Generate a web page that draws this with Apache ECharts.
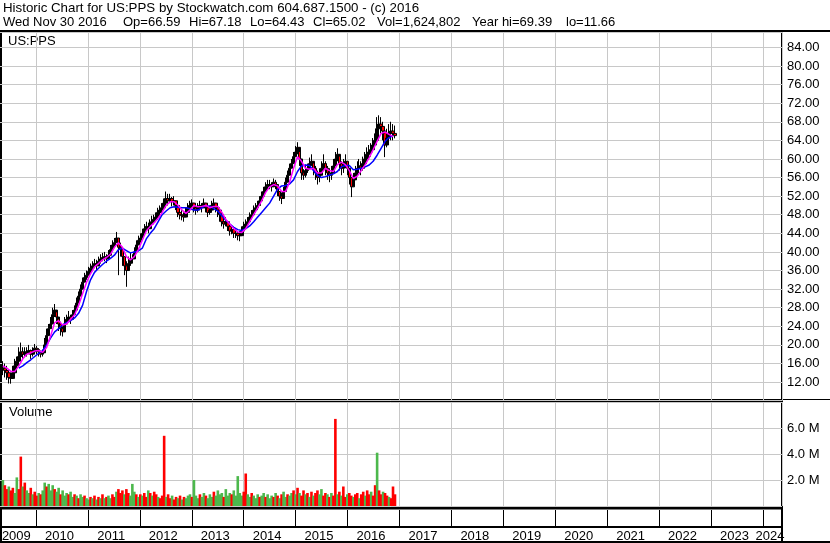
<!DOCTYPE html>
<html><head><meta charset="utf-8">
<script src="https://cdn.jsdelivr.net/npm/echarts@6/dist/echarts.min.js"></script>
<style>html,body{margin:0;padding:0;background:#fff}#c{width:830px;height:543px}</style>
</head><body><div id="c"></div>
<script>
const titleLine1 = 'Historic Chart for US:PPS by Stockwatch.com 604.687.1500 - (c) 2016';
const titleLine2Parts = ['Wed Nov 30 2016','Op=66.59','Hi=67.18','Lo=64.43','Cl=65.02','Vol=1,624,802','Year hi=69.39','lo=11.66'];
const symbolName = 'US:PPS';
const volumeTitle = 'Volume';
const firstBarDate = '2009-05-13';
const barStepDays = 14;
const yearLabels = [2009,2010,2011,2012,2013,2014,2015,2016,2017,2018,2019,2020,2021,2022,2023,2024];
const priceTickStep = 4;
const volumeTickStep = 2e6;

// [low, high, close] per two-week bar
const priceBars = [
[13.5,16.5,15],[13,16,14.5],[12.5,15.5,14],[11.7,14.5,13],[11.66,14,12.8],[13,15.5,14],[14.5,17,15.5],[15,17.5,16.5],[16,19.5,17.5],[17,20.5,18.5],
[17,19.5,18],[17.5,19.5,18.5],[17.5,19.5,18.3],[18,20,18.8],[17,19,18],[17.5,19.5,18.5],[18.5,20.2,19.3],[18,19.8,19],[17.5,19.3,18.5],[17.3,18.8,18],
[17.5,19,18.3],[19,21.5,20],[21,23.5,22],[22.5,24.5,23.5],[23.5,26,24.5],[25,28,26.5],[26,28.8,27.5],[24.5,27,26],[23,25.5,24.5],[22,25,23.5],
[21.8,24,22.8],[23.5,26,24.5],[24.5,26.5,25.5],[25,27.3,26],[24.5,26.5,25.5],[25.5,27.5,26.5],[26.5,28.5,27.5],[28,30.2,29],[29.5,31.5,30.5],[31,33,32],
[32.5,34.5,33.5],[33.5,35.5,34.5],[34,36,35],[35,36.8,35.8],[35.5,37.5,36.5],[36,38,37],[36.5,38.5,37.5],[36,38.3,37],[37,39,38],[37.5,39.5,38.5],
[38,39.8,38.8],[38,40,39],[37.6,39.5,38.5],[38.3,40.4,39.3],[39.5,41.5,40.5],[40.5,42.5,41.5],[41,43,42],[42,44.3,43],[35,43,41],[39,42,40.5],
[37,41,39],[35,39,37],[32.5,38,36],[36,39,37.5],[37,39.8,38.5],[37.5,39.5,38.5],[39,41,40],[40.5,42.5,41.5],[41.5,43.5,42.5],[42,44,43],
[43,45,44],[44,46,45],[44.5,46.5,45.5],[44,46.3,45],[45,47,46],[45.5,47.8,46.5],[46,48,47],[46.5,48.5,47.5],[47.5,49.5,48.5],[48,50,49],
[48.3,50.5,49.5],[49.5,51.5,50.5],[50,53,51.5],[50,52.5,51],[50.5,52.5,51.5],[49.8,51.8,50.8],[50,52,51],[49,51,50],[47.5,49.5,48.5],[47,49,48],
[46.8,49,47.8],[46.5,48.5,47.5],[47.5,49.5,48.5],[48.5,50.5,49.5],[49,51,50],[49.5,51.3,50.5],[48.5,50.5,49.5],[48,50.3,49],[48.5,50.5,49.5],[49,51,50],
[48.5,50.5,49.5],[49.5,51.5,50.5],[48.5,50.5,49.5],[47.5,49.5,48.5],[48,50,49],[49,51,50],[49.5,51.5,50.5],[48.5,50.5,49.5],[47.5,50,49],[46.5,49,48],
[45.5,48,46.5],[45,47,46],[45.5,47.5,46.5],[44.5,46.5,45.5],[43.5,45.5,44.5],[43.8,45.8,44.8],[43,45,44],[43,45,44],[42.5,44.5,43.5],[42.3,44.5,43.5],
[43.5,45.5,44.5],[44.5,46.5,45.5],[45,47,46],[45.5,47.5,46.5],[46.5,48.5,47.5],[47,49,48],[48,50,49],[48.5,50.5,49.5],[49,51,50],[50,52,51],
[51,53,52],[52,54,53],[53,55,54],[53.5,55.5,54.5],[53.5,55.5,54.5],[53,55,54],[54,55.8,55],[53.5,55.5,54.5],[52,54,53],[51,53,52],
[50.3,52.8,51.5],[52,54,53],[54,56,55],[55.5,57.5,56.5],[57,59,58],[58,60,59],[59.5,61.5,60.5],[60.5,62.8,61.5],[61,63.6,62.5],[58.5,61.5,60],
[55.5,58.5,57],[55.5,57.8,56.5],[56,58.8,57.5],[57,59,58],[58,60.3,59],[58.5,61,59.5],[56.5,59,58],[55.5,58.5,57],[54.5,57.5,56],[55,58,56.5],
[56.5,59.5,58],[57.5,61,59],[56.5,59.5,58],[55.5,58.5,57],[55,58,56.5],[55.5,58.5,57],[57,60,58.5],[58.5,61.5,60],[59.5,62.3,61],[57.5,60.5,59],
[56.5,59.5,58],[57,60,58.5],[58,61,59.5],[56.5,59.5,58],[54.5,57.5,56],[51.8,56,54],[54,57,55.5],[55.5,58.5,57],[56.5,59.5,58],[57,60,58.5],
[56.5,59.5,58],[57.5,60.5,59],[58.5,61.5,60],[59.5,62.5,61],[60,63,61.5],[60.5,63.4,62],[61.5,64.5,63],[62.5,65.5,64],[65,69,66.5],[66,69.39,67.5],
[65.5,69,67],[64,68,66],[60.4,65.5,63],[62.5,66.5,64.5],[63.5,67.5,65.5],[64,68,66],[64,67.5,65.5],[64.43,67.18,65.02]
];

// volume per bar, millions
const volumes = [
2.0,1.6,1.3,1.5,1.2,1.4,1.0,2.2,1.3,3.8, 1.5,1.8,1.2,1.0,1.4,0.9,1.1,0.8,1.0,0.9,
1.2,1.8,1.5,1.7,1.2,1.6,1.3,1.1,1.4,0.9, 1.2,0.8,1.0,0.9,1.1,0.7,0.9,0.8,0.6,0.9,
0.7,0.8,0.6,0.5,0.7,0.6,0.8,0.5,0.7,0.6, 0.9,0.6,0.7,0.8,0.6,0.9,0.7,1.1,1.3,1.0,
1.2,0.9,1.3,1.0,0.8,1.7,1.1,0.9,0.7,0.9, 0.8,1.0,0.7,1.2,1.0,0.8,1.1,0.9,0.7,0.6,
0.8,5.4,0.7,0.9,0.6,0.8,0.5,0.7,0.6,0.8, 0.5,0.7,0.6,0.8,0.9,0.7,2.0,0.8,0.6,0.9,
0.7,1.0,0.8,0.6,0.9,0.7,1.1,0.8,1.2,0.9, 1.0,0.7,1.3,0.8,1.0,0.9,1.2,0.8,2.3,1.0,
0.8,1.1,2.5,0.9,0.7,1.0,0.8,0.6,0.9,0.7, 0.8,1.0,0.7,0.9,0.6,0.8,0.7,1.0,0.8,0.6,
0.9,1.1,0.7,0.9,0.8,1.0,1.2,0.9,1.4,1.0, 0.8,1.2,0.9,1.0,0.7,1.1,0.8,1.0,1.2,0.9,
1.3,0.8,1.0,0.9,0.7,1.0,0.8,6.7,0.9,1.1, 0.8,1.5,0.7,0.9,1.0,0.8,0.7,0.9,1.0,0.6,
0.9,1.1,0.8,1.2,0.9,1.1,0.8,1.6,4.1,1.2, 0.9,1.1,1.0,0.8,0.7,0.6,1.5,0.9
];
const volumeColours = 'grrgrrggrr'+'grggrgrrgr'+'ggrgggrggr'+'gggrggrgrg'+'grggrgrgrg'+'rgrggrrgrr'+'rgrrgggrgr'+'grrgrgrrgr'+'rrgrrgrrgr'+'grgggrgggr'+
  'ggrgggrggg'+'grgggrgggg'+'grrggrgggr'+'ggrgggrgrg'+'rggrggrgrg'+'rrgrgrgrrg'+'grrgrgrrgr'+'grrgrrgrrg'+'rrgrrgrrgr'+'rgrrgrrr';

// moving averages, one value every 2 bars
const maBarStep = 2;
const maFast = [
15.5,15,14.3,14.3,15.5,17,18,18.3,18.7,18.8, 18.4,19.5,22,24.8,25.2,24.3,24.5,25.5,26.5,28.5,
31,33.5,35.3,36.8,37.5,38.3,38.8,39.5,41,42, 41,39,38.3,39,40.5,42.5,44.5,45.5,46.3,47.3,
48.5,50,50.8,50.8,50,49,48.3,49,50,49.7, 49.8,50,49.5,49.8,49.8,48.5,47,46,45,44.3,
44.2,45,46.5,48,49.5,51,52.8,54,54.5,54.2, 53,53,55,58,60.5,59.5,58,57.8,58,57,
57,58,57.5,57.3,58.8,59.3,58.8,57.5,55.8,56.3, 57.5,58.8,60.3,62,63.8,65.5,65.8,65.3,64.8
];
const maSlow = [
null,null,null,null,15,15.5,16.2,16.8,17.5,18.2, 18.8,20,21.5,22.8,23.5,24.3,24.8,25.2,25.8,26.8,
28.5,31.5,34,35.6,36.5,37.3,38,38.6,39.3,40.5, 40.8,40.3,39.8,40,40.2,40.8,42.8,44,45,46.5,
48,48.8,49.5,49.7,49.6,49.5,49.5,49.3,49,49, 49.5,50,49.8,49.3,48.8,47.8,46.8,46,45.3,44.8,
44.6,45,45.6,46.5,47.5,48.5,49.5,50.5,52,53.5, 54.2,54.3,54.6,55.5,57.3,58.5,58.7,58.6,57.5,56.5,
56,56.2,56.5,56.8,57.3,58.3,58.6,58.6,57.7,57.8, 58,58.3,58.7,59.5,60.8,62.3,63.8,64.6,65
];

const FONT = '"Liberation Sans", Arial, sans-serif';
const DAY = 86400000;
function decYear(t){const d=new Date(t);const y=d.getUTCFullYear();const a=Date.UTC(y,0,1),b=Date.UTC(y+1,0,1);return y+(t-a)/(b-a);}
const t0 = Date.parse(firstBarDate+'T00:00:00Z');
const barX = priceBars.map((_,i)=>decYear(t0+i*barStepDays*DAY));
const candles = priceBars.map((b,i)=>{const open=i?priceBars[i-1][2]:b[2];return [barX[i],open,b[2],b[0],b[1]];});
const volData = volumes.map((v,i)=>({value:[barX[i],v*1e6],itemStyle:{color:volumeColours[i]==='r'?'#ff0000':'#4cb84c'}}));
const fastData = maFast.map((v,k)=>[barX[k*maBarStep],v]);
const slowData = maSlow.map((v,k)=>[barX[k*maBarStep],v]);

const X_MIN = yearLabels[0], X_MAX = 2024.365, X_VIS = barX[0]-0.02;
const labelPos = yearLabels.map(y=>(Math.max(y,X_VIS)+Math.min(y+1,X_MAX))/2-0.05);

const gridL = -15.9, gridR = 48;
const baseX = {type:'value',min:X_MIN,max:X_MAX,interval:1,axisLine:{show:false},axisTick:{show:false},axisLabel:{show:false},
  splitLine:{show:true,lineStyle:{color:'#c8c8c8',width:1}}};
const gridBase = {left:gridL,right:gridR,outerBoundsMode:'none',containLabel:false};

const line2X = [3,123,189,250,313,377,472,566];
const titleTexts = titleLine2Parts.map((t,i)=>({type:'text',x:line2X[i],y:16,style:{text:t,font:'13px '+FONT,fill:'#000'}}));

const chart = echarts.init(document.getElementById('c'),null,{renderer:'canvas'});
chart.setOption({
  animation:false,
  backgroundColor:'#fff',
  grid:[
    Object.assign({top:32,height:368.7},gridBase),
    Object.assign({top:402,height:104},gridBase),
    Object.assign({top:510,height:16},gridBase)
  ],
  xAxis:[
    Object.assign({gridIndex:0},baseX),
    Object.assign({gridIndex:1},baseX),
    Object.assign({},baseX,{gridIndex:2,splitLine:{show:true,lineStyle:{color:'#000',width:1}},
      axisLabel:{show:true,customValues:labelPos,formatter:v=>String(Math.floor(v+0.001)),margin:4,color:'#000',fontSize:13,fontFamily:FONT}})
  ],
  yAxis:[
    {gridIndex:0,type:'value',position:'right',min:8,max:87.31,interval:priceTickStep,axisLine:{show:false},axisTick:{show:false},
      splitLine:{lineStyle:{color:'#c8c8c8',width:1}},
      axisLabel:{showMinLabel:false,showMaxLabel:false,margin:5,color:'#000',fontSize:13,fontFamily:FONT,formatter:v=>v.toFixed(2)}},
    {gridIndex:1,type:'value',position:'right',min:0,max:8e6,interval:volumeTickStep,axisLine:{show:false},axisTick:{show:false},
      splitLine:{lineStyle:{color:'#c8c8c8',width:1}},
      axisLabel:{showMinLabel:false,showMaxLabel:false,margin:5,color:'#000',fontSize:13,fontFamily:FONT,formatter:v=>(v/1e6).toFixed(1)+' M'}},
    {gridIndex:2,type:'value',show:false,min:0,max:1}
  ],
  series:[
    {type:'candlestick',xAxisIndex:0,yAxisIndex:0,data:candles,encode:{x:0,y:[1,2,3,4]},barWidth:3,
      itemStyle:{color:'#000',color0:'#ff0000',borderColor:'#000',borderColor0:'#000',borderWidth:1},z:2},
    {type:'line',xAxisIndex:0,yAxisIndex:0,data:slowData,symbol:'none',lineStyle:{color:'#0000ff',width:1.5},z:3,connectNulls:false},
    {type:'line',xAxisIndex:0,yAxisIndex:0,data:fastData,symbol:'none',lineStyle:{color:'#ff00ff',width:1.5},z:4},
    {type:'bar',xAxisIndex:1,yAxisIndex:1,data:volData,barWidth:2.6,z:2}
  ],
  graphic:[
    {type:'text',x:3,y:2,style:{text:titleLine1,font:'13.3px '+FONT,fill:'#000'}}
  ].concat(titleTexts).concat([
    {type:'text',x:8,y:35,style:{text:symbolName,font:'13px '+FONT,fill:'#000'}},
    {type:'text',x:9,y:406,style:{text:volumeTitle,font:'13px '+FONT,fill:'#000'}},
    {type:'rect',shape:{x:0,y:30,width:830,height:2},style:{fill:'#000'}},
    {type:'rect',shape:{x:0,y:30,width:2,height:513},style:{fill:'#000'}},
    {type:'rect',shape:{x:781,y:30,width:2,height:513},style:{fill:'#000'}},
    {type:'rect',shape:{x:0,y:399,width:830,height:1},style:{fill:'#000'}},
    {type:'rect',shape:{x:0,y:401,width:782,height:1},style:{fill:'#000'}},
    {type:'rect',shape:{x:0,y:507,width:782,height:2.5},style:{fill:'#000'}},
    {type:'rect',shape:{x:0,y:526,width:782,height:2},style:{fill:'#000'}},
    {type:'rect',shape:{x:0,y:541,width:830,height:2},style:{fill:'#000'}}
  ])
});
</script></body></html>
